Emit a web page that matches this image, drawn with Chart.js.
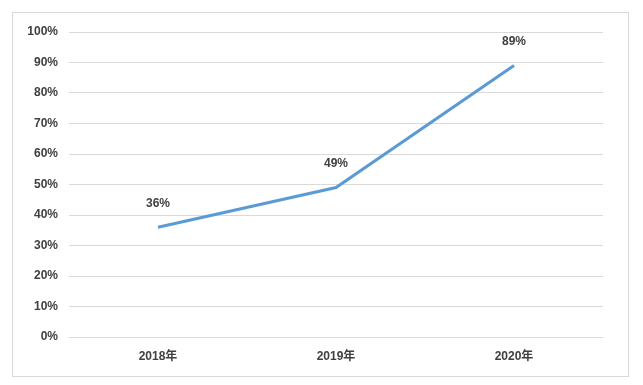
<!DOCTYPE html>
<html>
<head>
<meta charset="utf-8">
<script src="https://cdn.jsdelivr.net/npm/chart.js@4"></script>
<style>
html,body{margin:0;padding:0;background:#fff;}
#wrap{position:relative;width:643px;height:385px;}
#frame{position:absolute;left:12px;top:12px;width:617px;height:365px;border:1px solid #d9d9d9;box-sizing:border-box;}
canvas{position:absolute;left:0;top:0;}
</style>
</head>
<body>
<div id="wrap">
<div id="frame"></div>
<canvas id="c" width="643" height="385"></canvas>
</div>
<script>
const categories = ['2018年', '2019年', '2020年'];
const values = [36, 49, 89];
const yTicks = [0, 10, 20, 30, 40, 50, 60, 70, 80, 90, 100];

const FONT = "'Liberation Sans', Arial, 'Noto Sans CJK SC', sans-serif";

const labelPlugin = {
  id: 'pointLabels',
  afterDatasetsDraw(chart) {
    const ctx = chart.ctx;
    const meta = chart.getDatasetMeta(0);
    ctx.save();
    ctx.font = 'bold 12px ' + FONT;
    ctx.fillStyle = '#404040';
    ctx.textAlign = 'center';
    ctx.textBaseline = 'middle';
    meta.data.forEach((pt, i) => {
      ctx.fillText(values[i] + '%', pt.x, pt.y - 24);
    });
    ctx.restore();
  }
};

new Chart(document.getElementById('c'), {
  type: 'line',
  data: {
    labels: categories,
    datasets: [{
      data: values,
      borderColor: '#5B9BD5',
      borderWidth: 3,
      pointRadius: 0,
      tension: 0,
      fill: false
    }]
  },
  options: {
    responsive: false,
    animation: false,
    layout: { padding: { left: 0, right: 40, top: 32, bottom: 0 } },
    plugins: { legend: { display: false }, tooltip: { enabled: false } },
    scales: {
      x: {
        offset: true,
        grid: { display: false, drawTicks: false },
        border: { display: false },
        ticks: { font: { size: 12, weight: 'bold', family: FONT }, color: '#404040', padding: 12 },
        afterFit(scale) { scale.height = 48; }
      },
      y: {
        min: 0, max: 100,
        afterBuildTicks(scale) { scale.ticks = yTicks.map(v => ({ value: v })); },
        grid: { color: '#d9d9d9', drawTicks: false, lineWidth: 1 },
        border: { display: false },
        ticks: {
          font: { size: 12, weight: 'bold', family: FONT }, color: '#404040', padding: 11,
          callback: v => v + '%'
        },
        afterFit(scale) { scale.width = 69; }
      }
    }
  },
  plugins: [labelPlugin]
});
</script>
</body>
</html>
